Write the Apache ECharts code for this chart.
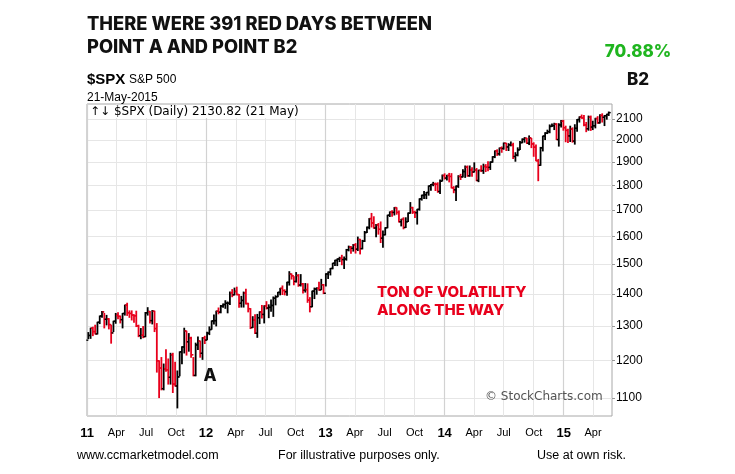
<!DOCTYPE html>
<html><head><meta charset="utf-8">
<script src="https://cdn.jsdelivr.net/npm/echarts@6.0.0/dist/echarts.min.js"></script>
<style>html,body{margin:0;padding:0;background:#fff}#c{width:735px;height:474px}</style>
</head><body><div id="c"></div>
<script>
// Weekly bars: [week ending, high, low, close]
const prevClose2010 = 1257.64;
const w2011 = [
['2011-01-07',1280,1262,1271.5],['2011-01-14',1293,1263,1293],['2011-01-21',1296,1271,1283],['2011-01-28',1302,1276,1276],
['2011-02-04',1311,1276,1311],['2011-02-11',1330,1307,1330],['2011-02-18',1344,1326,1343],['2011-02-25',1338,1294,1320],
['2011-03-04',1332,1303,1321],['2011-03-11',1322,1291,1304],['2011-03-18',1302,1249,1279],['2011-03-25',1314,1283,1314],
['2011-04-01',1338,1308,1332],['2011-04-08',1340,1322,1329],['2011-04-15',1330,1309,1319],['2011-04-22',1338,1294,1338],
['2011-04-29',1364,1333,1364],['2011-05-06',1370,1332,1340],['2011-05-13',1346,1326,1338],['2011-05-20',1346,1318,1333],
['2011-05-27',1334,1311,1331],['2011-06-03',1345,1298,1300],['2011-06-10',1302,1268,1271],['2011-06-17',1292,1262,1272],
['2011-06-24',1298,1265,1268],['2011-07-01',1341,1268,1340],['2011-07-08',1356,1333,1344],['2011-07-15',1344,1309,1316],
['2011-07-22',1347,1306,1345],['2011-07-29',1345,1283,1292],['2011-08-05',1307,1168,1199],['2011-08-12',1199,1101,1179],
['2011-08-19',1208,1121,1124],['2011-08-26',1190,1121,1177],['2011-09-02',1230,1170,1174],['2011-09-09',1204,1136,1154],
['2011-09-16',1220,1136,1216],['2011-09-23',1220,1114,1136],['2011-09-30',1195,1131,1131],['2011-10-07',1171,1075,1155],
['2011-10-14',1224,1158,1224],['2011-10-21',1239,1191,1238],['2011-10-28',1293,1221,1285],['2011-11-04',1284,1215,1253],
['2011-11-11',1277,1226,1264],['2011-11-18',1266,1209,1216],['2011-11-25',1208,1158,1159],['2011-12-02',1249,1158,1244],
['2011-12-09',1267,1231,1255],['2011-12-16',1255,1209,1220],['2011-12-23',1265,1203,1265],['2011-12-30',1269,1248,1258]
];
const w2012 = [
['2012-01-06',1281,1259,1278],['2012-01-13',1297,1274,1289],['2012-01-20',1315,1290,1315],['2012-01-27',1333,1306,1316],
['2012-02-03',1345,1300,1345],['2012-02-10',1355,1337,1342],['2012-02-17',1363,1340,1361],['2012-02-24',1368,1357,1366],
['2012-03-02',1378,1354,1370],['2012-03-09',1374,1340,1370],['2012-03-16',1406,1366,1404],['2012-03-23',1414,1391,1397],
['2012-03-30',1419,1397,1408],['2012-04-06',1422,1397,1398],['2012-04-13',1398,1357,1370],['2012-04-20',1392,1358,1379],
['2012-04-27',1406,1358,1403],['2012-05-04',1415,1368,1369],['2012-05-11',1370,1343,1353],['2012-05-18',1353,1292,1295],
['2012-05-25',1328,1295,1318],['2012-06-01',1334,1277,1278],['2012-06-08',1335,1266,1325],['2012-06-15',1343,1307,1343],
['2012-06-22',1363,1324,1335],['2012-06-29',1362,1309,1362],['2012-07-06',1375,1352,1355],['2012-07-13',1365,1325,1357],
['2012-07-20',1380,1345,1363],['2012-07-27',1390,1329,1386],['2012-08-03',1394,1365,1391],['2012-08-10',1405,1391,1405],
['2012-08-17',1418,1397,1418],['2012-08-24',1426,1398,1411],['2012-08-31',1413,1397,1407],['2012-09-07',1438,1396,1438],
['2012-09-14',1474,1429,1466],['2012-09-21',1466,1449,1460],['2012-09-28',1457,1430,1441],['2012-10-05',1471,1439,1461],
['2012-10-12',1464,1425,1429],['2012-10-19',1464,1426,1433],['2012-10-26',1434,1403,1412],['2012-11-02',1434,1406,1414],
['2012-11-09',1433,1373,1380],['2012-11-16',1388,1343,1359],['2012-11-23',1409,1359,1409],['2012-11-30',1419,1385,1416],
['2012-12-07',1420,1399,1418],['2012-12-14',1438,1412,1413],['2012-12-21',1448,1414,1430],['2012-12-28',1431,1401,1402]
];
const w2013 = [
['2013-01-04',1467,1426,1466],['2013-01-11',1473,1451,1472],['2013-01-18',1485,1463,1485],['2013-01-25',1503,1484,1503],
['2013-02-01',1514,1495,1513],['2013-02-08',1518,1495,1518],['2013-02-15',1524,1509,1520],['2013-02-22',1531,1498,1516],
['2013-03-01',1525,1485,1518],['2013-03-08',1552,1514,1551],['2013-03-15',1564,1547,1561],['2013-03-22',1563,1538,1556],
['2013-03-29',1570,1546,1569],['2013-04-05',1573,1539,1553],['2013-04-12',1597,1548,1588],['2013-04-19',1589,1536,1555],
['2013-04-26',1585,1554,1582],['2013-05-03',1618,1581,1614],['2013-05-10',1635,1614,1633],['2013-05-17',1667,1628,1667],
['2013-05-24',1687,1635,1650],['2013-05-31',1674,1630,1631],['2013-06-07',1644,1598,1643],['2013-06-14',1648,1608,1626],
['2013-06-21',1654,1577,1593],['2013-06-28',1620,1560,1606],['2013-07-05',1632,1605,1632],['2013-07-12',1680,1632,1680],
['2013-07-19',1693,1675,1692],['2013-07-26',1698,1676,1691],['2013-08-02',1710,1681,1710],['2013-08-09',1709,1684,1691],
['2013-08-16',1697,1654,1655],['2013-08-23',1664,1639,1664],['2013-08-30',1670,1628,1633],['2013-09-06',1670,1633,1655],
['2013-09-13',1689,1656,1688],['2013-09-20',1730,1688,1710],['2013-09-27',1711,1687,1692],['2013-10-04',1696,1671,1690],
['2013-10-11',1703,1646,1703],['2013-10-18',1745,1700,1745],['2013-10-25',1760,1740,1759],['2013-11-01',1775,1746,1762],
['2013-11-08',1771,1746,1771],['2013-11-15',1798,1760,1798],['2013-11-22',1804,1780,1804],['2013-11-29',1813,1799,1806],
['2013-12-06',1810,1779,1805],['2013-12-13',1811,1772,1775],['2013-12-20',1823,1767,1818],['2013-12-27',1844,1819,1842]
];
const w2014 = [
['2014-01-03',1849,1827,1831],['2014-01-10',1843,1823,1842],['2014-01-17',1851,1815,1838],['2014-01-24',1850,1790,1790],
['2014-01-31',1795,1770,1782],['2014-02-07',1798,1738,1797],['2014-02-14',1841,1792,1838],['2014-02-21',1847,1825,1836],
['2014-02-28',1867,1836,1859],['2014-03-07',1883,1834,1878],['2014-03-14',1883,1839,1841],['2014-03-21',1883,1839,1866],
['2014-03-28',1875,1839,1857],['2014-04-04',1897,1857,1865],['2014-04-11',1872,1820,1821],['2014-04-17',1865,1816,1864],
['2014-04-25',1884,1859,1863],['2014-05-02',1891,1851,1881],['2014-05-09',1889,1859,1878],['2014-05-16',1902,1862,1877],
['2014-05-23',1901,1868,1900],['2014-05-30',1924,1900,1924],['2014-06-06',1950,1920,1950],['2014-06-13',1955,1930,1937],
['2014-06-20',1963,1931,1963],['2014-06-27',1968,1944,1961],['2014-07-03',1986,1958,1985],['2014-07-11',1985,1952,1968],
['2014-07-18',1983,1952,1978],['2014-07-25',1991,1973,1978],['2014-08-01',1985,1916,1925],['2014-08-08',1942,1904,1931],
['2014-08-15',1964,1928,1955],['2014-08-22',1993,1956,1988],['2014-08-29',2005,1987,2003],['2014-09-05',2011,1990,2008],
['2014-09-12',2008,1984,1985],['2014-09-19',2019,1979,2010],['2014-09-26',2007,1965,1982],['2014-10-03',1987,1926,1967],
['2014-10-10',1977,1906,1906],['2014-10-17',1912,1820,1886],['2014-10-24',1966,1886,1964],['2014-10-31',2018,1950,2018],
['2014-11-07',2034,2002,2032],['2014-11-14',2046,2030,2039],['2014-11-21',2071,2034,2064],['2014-11-28',2075,2064,2068],
['2014-12-05',2079,2049,2075],['2014-12-12',2077,2002,2002],['2014-12-19',2077,1972,2071],['2014-12-26',2093,2061,2089]
];
const w2015 = [
['2015-01-02',2093,2046,2058],['2015-01-09',2065,1992,2045],['2015-01-16',2050,1988,2019],['2015-01-23',2065,1993,2051],
['2015-01-30',2057,1990,1995],['2015-02-06',2072,1981,2055],['2015-02-13',2097,2041,2097],['2015-02-20',2110,2085,2110],
['2015-02-27',2119,2103,2105],['2015-03-06',2117,2067,2071],['2015-03-13',2083,2039,2053],['2015-03-20',2114,2046,2108],
['2015-03-27',2114,2045,2061],['2015-04-02',2089,2049,2067],['2015-04-10',2103,2057,2102],['2015-04-17',2111,2079,2081],
['2015-04-24',2120,2080,2117],['2015-05-01',2125,2085,2108],['2015-05-08',2117,2068,2116],['2015-05-15',2123,2099,2122],
['2015-05-21',2134,2117,2131]
];
const priceTicks = [1100,1200,1300,1400,1500,1600,1700,1800,1900,2000,2100];
const monthNames = ['Jan','Feb','Mar','Apr','May','Jun','Jul','Aug','Sep','Oct','Nov','Dec'];

function ts(s){const p=s.split('-').map(Number);return Date.UTC(p[0],p[1]-1,p[2]);}
const all = w2011.concat(w2012,w2013,w2014,w2015);
const barData = [];
let prev = prevClose2010;
all.forEach(r=>{ barData.push([ts(r[0]), r[2], r[1], r[3], prev]); prev = r[3]; });

const quarterTicks = [], yearTicks = [];
for (let y=2011;y<=2015;y++){ for (let m=0;m<12;m+=3){ const t=Date.UTC(y,m,3); if (t<=ts('2015-05-21')) quarterTicks.push(t);} yearTicks.push(Date.UTC(y,0,3)); }

const chart = echarts.init(document.getElementById('c'));
const F = 'Liberation Sans, Arial, sans-serif';
const xMin = ts('2011-01-03'), xMax = ts('2015-05-31');
const option = {
  animation:false,
  backgroundColor:'#fff',
  grid:{left:87,right:123,top:104,bottom:58,show:true,borderColor:'#a8a8a8',borderWidth:1,backgroundColor:'transparent'},
  xAxis:[{
    type:'value', min:xMin, max:xMax,
    axisLine:{show:false}, axisTick:{show:false,customValues:quarterTicks},
    axisLabel:{customValues:quarterTicks, margin:11, color:'#000', fontFamily:F, fontSize:11, showMinLabel:true, showMaxLabel:true,
      formatter:function(v){const d=new Date(v);const m=d.getUTCMonth(); if(m===0) return '{y|'+String(d.getUTCFullYear()).slice(2)+'}'; return monthNames[m];},
      rich:{y:{fontWeight:'bold',fontSize:13,fontFamily:F,color:'#000'}}},
    splitLine:{show:true,lineStyle:{color:'#e6e6e6',width:1}}
  },{
    type:'value', min:xMin, max:xMax, position:'bottom',
    axisLine:{show:false}, axisTick:{show:false,customValues:yearTicks},
    axisLabel:{show:false,customValues:yearTicks},
    splitLine:{show:true,lineStyle:{color:'#d2d2d2',width:1.2}}
  }],
  yAxis:{
    type:'log', logBase:10, min:1055, max:2174, position:'right',
    axisLine:{show:false},
    axisTick:{show:true,customValues:priceTicks,length:3,lineStyle:{color:'#999'}},
    axisLabel:{customValues:priceTicks,margin:4,color:'#000',fontFamily:F,fontSize:12,formatter:function(v){return String(Math.round(v));}},
    splitLine:{show:true,lineStyle:{color:'#e6e6e6',width:1}}
  },
  series:[{
    type:'custom',
    xAxisIndex:0, yAxisIndex:0,
    data:barData,
    encode:{x:0,y:[1,2]},
    renderItem:function(params,api){
      const x=api.value(0);
      const lo=api.coord([x,api.value(1)]), hi=api.coord([x,api.value(2)]);
      const cl=api.coord([x,api.value(3)]), op=api.coord([x,api.value(4)]);
      const color = api.value(3) < api.value(4) ? '#e8001c' : '#000';
      return {type:'group',children:[
        {type:'line',shape:{x1:lo[0],y1:lo[1]+0.5,x2:hi[0],y2:hi[1]-0.5},style:{stroke:color,lineWidth:1.8}},
        {type:'line',shape:{x1:cl[0],y1:cl[1],x2:cl[0]+2,y2:cl[1]},style:{stroke:color,lineWidth:1.4}},
        {type:'line',shape:{x1:op[0]-2,y1:op[1],x2:op[0],y2:op[1]},style:{stroke:color,lineWidth:1.4}}
      ]};
    }
  }],
  graphic:[
    {type:'text',z:100,left:87,top:16,style:{text:'THERE WERE 391 RED DAYS BETWEEN',font:'800 18.3px Inter',fill:'#111'}},
    {type:'text',z:100,left:87,top:39,style:{text:'POINT A AND POINT B2',font:'800 18.3px Inter',fill:'#111'}},
    {type:'text',z:100,left:87,top:72,style:{text:'$SPX',font:'bold 15px Liberation Sans',fill:'#000'}},
    {type:'text',z:100,left:129,top:74,style:{text:'S&P 500',font:'12px Liberation Sans',fill:'#000'}},
    {type:'text',z:100,left:87,top:92,style:{text:'21-May-2015',font:'12px Liberation Sans',fill:'#000'}},
    {type:'text',z:100,left:90,top:106,style:{text:'\u2191\u2193 $SPX (Daily) 2130.82 (21 May)',font:'12px DejaVu Sans',fill:'#000',backgroundColor:'#fff'}},
    {type:'text',z:100,x:638,y:52,style:{text:'70.88%',font:'800 17px Inter',fill:'#1fb51f',align:'center',verticalAlign:'middle'}},
    {type:'text',z:100,x:638,y:80,style:{text:'B2',font:'800 17px Inter',fill:'#111',align:'center',verticalAlign:'middle'}},
    {type:'text',z:100,x:210,y:376,style:{text:'A',font:'800 17px Inter',fill:'#111',align:'center',verticalAlign:'middle'}},
    {type:'text',z:100,left:377,top:285,style:{text:'TON OF VOLATILITY',font:'800 15px Inter',fill:'#e8001c'}},
    {type:'text',z:100,left:377,top:303,style:{text:'ALONG THE WAY',font:'800 15px Inter',fill:'#e8001c'}},
    {type:'text',z:100,left:485,top:391,style:{text:'\u00A9 StockCharts.com',font:'12px DejaVu Sans',fill:'#555'}},
    {type:'text',z:100,left:77,top:449,style:{text:'www.ccmarketmodel.com',font:'12.5px Liberation Sans',fill:'#000'}},
    {type:'text',z:100,left:278,top:449,style:{text:'For illustrative purposes only.',font:'12.5px Liberation Sans',fill:'#000'}},
    {type:'text',z:100,left:537,top:449,style:{text:'Use at own risk.',font:'12.5px Liberation Sans',fill:'#000'}}
  ]
};
chart.setOption(option);
</script></body></html>
